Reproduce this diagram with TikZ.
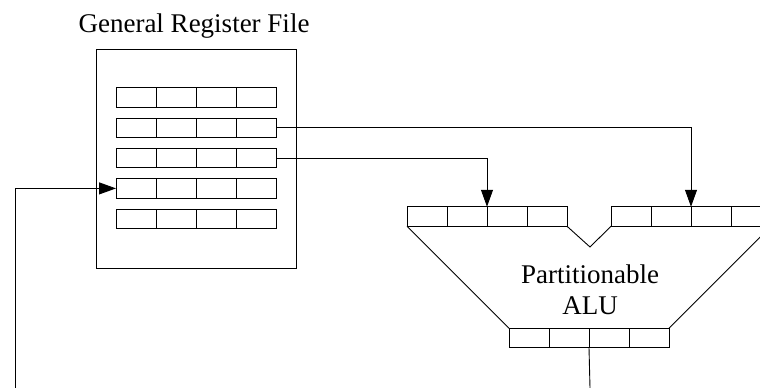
\documentclass[tikz,border=0pt]{standalone}
\usepackage{fontspec}
\setmainfont{Liberation Serif}
\usetikzlibrary{positioning, arrows.meta}
\tikzset{
	cell/.style={draw, minimum width=40pt, minimum height=19.5pt, inner sep=0pt, outer sep=0pt},
	link/.style={-{Triangle[length=17pt,width=12pt]}},
}

\begin{document}
\begin{tikzpicture}[x=1pt, y=-1pt, line width=0.9pt, font=\fontsize{27}{31}\selectfont]
				\useasboundingbox (0,0) rectangle (760,388);
				\clip (0,0) rectangle (760,388);
				
				\node[draw, minimum width=200pt, minimum height=219pt, inner sep=0pt] (GRF) at (196,158.5) {};
				\node[anchor=base] (title) at (194,32) {General Register File};
				
				\foreach \r in {1,...,5}
					\foreach \c in {1,...,4}
						\node[cell] (R\r c\c) at (96+40*\c, 67.2+30.3*\r) {};
				
				\foreach \c in {1,...,4}{
					\node[cell] (A\c) at (387+40*\c, 216.5) {};
					\node[cell] (B\c) at (591+40*\c, 216.5) {};
					\node[cell] (C\c) at (489+40*\c, 338) {};
				}
				
				\coordinate (N) at (590,247);
				\coordinate (F) at (15,388);
				\coordinate (O) at (590,388);
				
				\draw (A1.south west) -- (C1.north west);
				\draw (B4.south east) -- (C4.north east);
				\draw (A4.south east) -- (N) -- (B1.south west);
				\node[align=center] (ALU) at (590,290) {Partitionable\\ALU};
				
				\draw[link] (R2c4.east) -| (B3.north west);
				\draw[link] (R3c4.east) -| (A3.north west);
				\draw[link] (F) |- (R4c1.west);
				\draw (C3.south west) -- (O);
			\end{tikzpicture}
\end{document}
